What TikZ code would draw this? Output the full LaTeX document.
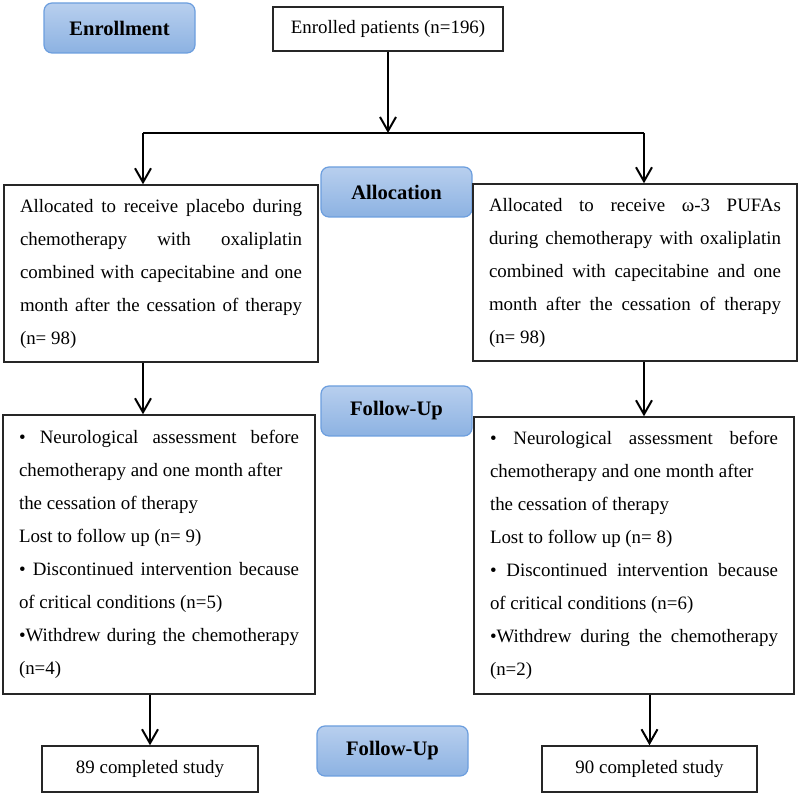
\documentclass[tikz,border=0pt]{standalone}
\usepackage{fontspec}
\setmainfont{Liberation Serif}
\usetikzlibrary{arrows.meta}
\definecolor{lblTop}{RGB}{184,207,238}
\definecolor{lblBottom}{RGB}{140,178,226}
\definecolor{lblEdge}{RGB}{108,158,222}

\begin{document}
\begin{tikzpicture}[x = 0.5pt, y = -0.5pt,
  stage/.style = {draw = lblEdge, line width = 0.6pt, rounded corners = 4pt, top color = lblTop, bottom color = lblBottom, minimum width = 75.5pt, minimum height = 25pt, inner sep = 0pt, font = \fontsize{10.3}{12}\selectfont\bfseries},
  box/.style = {draw = black!85, line width = 0.7pt, inner sep = 0pt, font = \fontsize{9.45}{11}\selectfont},
  textbox/.style = {draw = black!85, line width = 0.7pt, inner xsep = 8pt, inner ysep = 0pt, align = justify, font = \fontsize{9.45}{16.5}\selectfont},
  flow/.style = {draw = black, line width = 1pt},
  arr/.style = {flow, -{Straight Barb[length = 7pt, width = 8pt]}}]

\useasboundingbox (0,0) rectangle (800,795);

% stage labels
\node[stage] (enroll) at (119.5,28) {Enrollment};
\node[stage] (alloc) at (396.5,192) {Allocation};
\node[stage] (follow) at (396.5,411) {Follow-Up};
\node[stage] (follow2) at (392.5,751) {Follow-Up};

% boxes
\node[box, minimum width = 115pt, minimum height = 22pt] (enrolled) at (388,29) {Enrolled patients (n=196)};
\node[textbox, text width = 141pt, minimum height = 88.5pt] (placebo) at (161,273.5) {Allocated to receive placebo during\linebreak chemotherapy with oxaliplatin\linebreak combined with capecitabine and one\linebreak month after the cessation of therapy\linebreak (n= 98)};
\node[textbox, text width = 146pt, minimum height = 88.5pt] (pufa) at (635,272.5) {Allocated to receive ω-3 PUFAs\linebreak during chemotherapy with oxaliplatin\linebreak combined with capecitabine and one\linebreak month after the cessation of therapy\linebreak (n= 98)};
\node[textbox, text width = 140pt, minimum height = 139.5pt] (fuL) at (159,554.5) {• Neurological assessment before\linebreak chemotherapy and one month after\\ the cessation of therapy\\ Lost to follow up (n= 9)\\ • Discontinued intervention because\linebreak of critical conditions (n=5)\\ •Withdrew during the chemotherapy\linebreak (n=4)};
\node[textbox, text width = 144pt, minimum height = 138.5pt] (fuR) at (634,555.5) {• Neurological assessment before\linebreak chemotherapy and one month after\\ the cessation of therapy\\ Lost to follow up (n= 8)\\ • Discontinued intervention because\linebreak of critical conditions (n=6)\\ •Withdrew during the chemotherapy\linebreak (n=2)};
\node[box, minimum width = 108pt, minimum height = 23pt] (done89) at (150,769) {89 completed study};
\node[box, minimum width = 107.5pt, minimum height = 23pt] (done90) at (649.5,769) {90 completed study};

% connectors
\coordinate (split) at (388,133);
\coordinate (ltap) at (143,133);
\coordinate (rtap) at (644,133);
\draw[arr] (enrolled) -- (split);
\draw[flow] (ltap) -- (rtap);
\draw[arr] (ltap) -- (ltap |- placebo.north);
\draw[arr] (rtap) -- (rtap |- pufa.north);
\draw[arr] (placebo.south -| ltap) -- (fuL.north -| ltap);
\draw[arr] (pufa.south -| rtap) -- (fuR.north -| rtap);
\draw[arr] (fuL.south -| done89) -- (done89);
\draw[arr] (fuR.south -| done90) -- (done90);
\end{tikzpicture}
\end{document}
